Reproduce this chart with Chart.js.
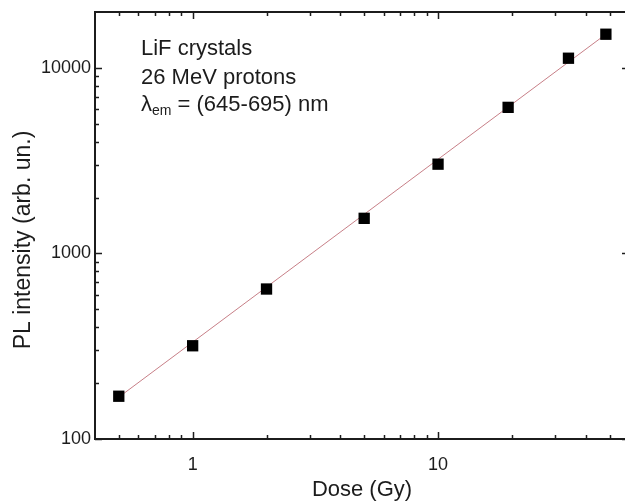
<!DOCTYPE html>
<html>
<head>
<meta charset="utf-8">
<script src="https://cdn.jsdelivr.net/npm/chart.js@4/dist/chart.umd.min.js"></script>
<style>
  html, body { margin: 0; padding: 0; background: #fff; overflow: hidden; }
  #wrap { width: 625px; height: 503px; overflow: hidden; }
</style>
</head>
<body>
<div id="wrap"><canvas id="grafico" width="637" height="503"></canvas></div>
<script>
// datos
const dosis = [0.5, 1, 2, 5, 10, 19.3, 34, 48.3];
const intensidad = [170, 318, 643, 1546, 3027, 6125, 11270, 15180];
// recta de ajuste (extremos)
const ajusteX = [0.5, 48.3];
const ajusteY = [168, 15180];
const ticksX = [1, 10];
const ticksY = [100, 1000, 10000];
const textoAnotacion = ['LiF crystals', '26 MeV protons'];

const COLOR_EJE = '#1c1c1c';
const FUENTE = "'Liberation Sans', Arial, sans-serif";

function menores(min, max) {
  const out = [];
  for (let e = -2; e <= 5; e++) {
    for (let m = 2; m <= 9; m++) {
      const v = m * Math.pow(10, e);
      if (v > min && v < max) out.push(v);
    }
  }
  return out;
}

// marco y marcas hacia dentro en los cuatro lados
const marcoPlugin = {
  id: 'marco',
  afterDatasetsDraw(chart) {
    const { ctx, chartArea: a, scales } = chart;
    const x = scales.x, y = scales.y;
    ctx.save();
    ctx.strokeStyle = COLOR_EJE;
    ctx.lineWidth = 2;
    ctx.strokeRect(a.left, a.top, a.right - a.left, a.bottom - a.top);
    ctx.lineWidth = 1.5;
    ctx.beginPath();
    const marca = (px, len, vertical) => {
      if (vertical) {
        ctx.moveTo(px, a.bottom); ctx.lineTo(px, a.bottom - len);
        ctx.moveTo(px, a.top); ctx.lineTo(px, a.top + len);
      } else {
        ctx.moveTo(a.left, px); ctx.lineTo(a.left + len, px);
        ctx.moveTo(a.right, px); ctx.lineTo(a.right - len, px);
      }
    };
    ticksX.forEach(v => marca(Math.round(x.getPixelForValue(v)) + 0.5, 7, true));
    menores(x.min, x.max).forEach(v => marca(Math.round(x.getPixelForValue(v)) + 0.5, 4, true));
    ticksY.forEach(v => marca(Math.round(y.getPixelForValue(v)) + 0.5, 7, false));
    menores(y.min, y.max).forEach(v => marca(Math.round(y.getPixelForValue(v)) + 0.5, 4, false));
    ctx.stroke();
    ctx.restore();
  },
  afterDraw(chart) {
    const ctx = chart.ctx;
    ctx.save();
    ctx.fillStyle = COLOR_EJE;
    ctx.textBaseline = 'alphabetic';
    ctx.font = '22px ' + FUENTE;
    const x0 = 141;
    ctx.fillText(textoAnotacion[0], x0, 55);
    ctx.fillText(textoAnotacion[1], x0, 83.5);
    // lambda con subíndice
    let cx = x0;
    ctx.fillText('\u03bb', cx, 111);
    cx += ctx.measureText('\u03bb').width;
    ctx.font = '14px ' + FUENTE;
    ctx.fillText('em', cx, 115);
    cx += ctx.measureText('em').width;
    ctx.font = '22px ' + FUENTE;
    ctx.fillText(' = (645-695) nm', cx, 111);

    // título del eje Y
    ctx.translate(24, 240);
    ctx.rotate(-Math.PI / 2);
    ctx.textAlign = 'center';
    ctx.textBaseline = 'middle';
    ctx.font = '23px ' + FUENTE;
    ctx.fillText('PL intensity (arb. un.)', 0, 0);
    ctx.restore();
  }
};

new Chart(document.getElementById('grafico'), {
  type: 'scatter',
  data: {
    datasets: [
      {
        label: 'ajuste',
        data: ajusteX.map((v, i) => ({ x: v, y: ajusteY[i] })),
        showLine: true,
        borderColor: 'rgba(185, 95, 105, 0.8)',
        borderWidth: 1,
        pointRadius: 0,
        order: 2
      },
      {
        label: 'PL',
        data: dosis.map((v, i) => ({ x: v, y: intensidad[i] })),
        pointStyle: 'rect',
        pointRadius: 8,
        pointHoverRadius: 8,
        backgroundColor: '#000',
        borderColor: '#000',
        borderWidth: 0,
        order: 1
      }
    ]
  },
  options: {
    responsive: false,
    animation: false,
    devicePixelRatio: 1,
    layout: { padding: { top: 12, right: 4, left: 0, bottom: 0 } },
    plugins: { legend: { display: false }, tooltip: { enabled: false } },
    scales: {
      x: {
        type: 'logarithmic',
        min: 0.4,
        max: 60,
        grid: { display: false, drawTicks: false },
        border: { display: false },
        afterBuildTicks: s => { s.ticks = ticksX.map(v => ({ value: v })); },
        afterFit: s => { s.height = 64; s.paddingLeft = 0; s.paddingRight = 0; },
        ticks: {
          color: COLOR_EJE,
          font: { family: FUENTE, size: 18 },
          padding: 15,
          maxRotation: 0,
          callback: v => String(v)
        },
        title: {
          display: true,
          text: 'Dose (Gy)',
          color: COLOR_EJE,
          font: { family: FUENTE, size: 22 },
          padding: { top: 1, bottom: 0 }
        }
      },
      y: {
        type: 'logarithmic',
        min: 100,
        max: 20000,
        grid: { display: false, drawTicks: false },
        border: { display: false },
        afterBuildTicks: s => { s.ticks = ticksY.map(v => ({ value: v })); },
        afterFit: s => { s.width = 95; s.paddingTop = 0; s.paddingBottom = 0; },
        ticks: {
          color: COLOR_EJE,
          font: { family: FUENTE, size: 18 },
          padding: 4,
          callback: v => String(v)
        },
        title: { display: false }
      }
    }
  },
  plugins: [marcoPlugin]
});
</script>
</body>
</html>
